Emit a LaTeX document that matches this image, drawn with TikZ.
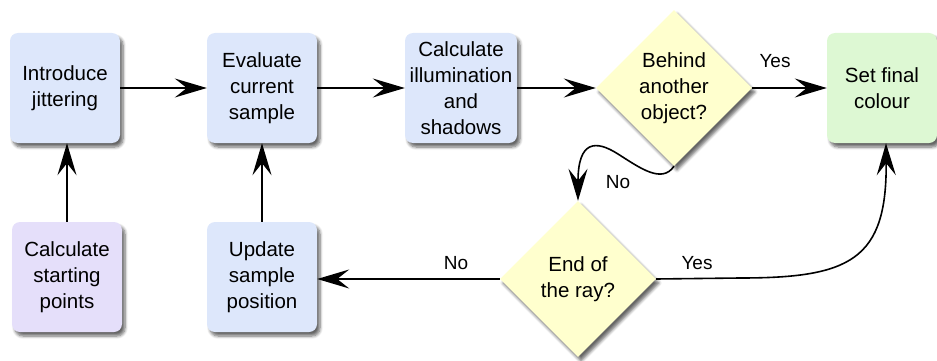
\documentclass[tikz,border=0pt]{standalone}
\usepackage{fontspec}
\setmainfont{Liberation Sans}
\usetikzlibrary{shapes.geometric,arrows.meta,shadows.blur}
\definecolor{boxblue}{RGB}{221,231,251}
\definecolor{boxgreen}{RGB}{221,248,211}
\definecolor{boxpurple}{RGB}{229,223,250}
\definecolor{boxyellow}{RGB}{255,255,206}
\tikzset{
  shad/.style={blur shadow={shadow xshift=3pt, shadow yshift=-4pt, shadow blur steps=6, shadow blur radius=3pt, shadow opacity=60}},
  stepbox/.style={rectangle, rounded corners=8pt, minimum width=110pt, minimum height=110pt, inner sep=0pt, align=center, font=\fontsize{20.5}{26}\selectfont, shad},
  decision/.style={diamond, aspect=1, minimum width=156pt, minimum height=156pt, inner sep=0pt, align=center, fill=boxyellow, font=\fontsize{20.5}{26}\selectfont, shad},
  conn/.style={line width=1.6pt, -{Stealth[length=32pt,width=19pt,inset=12pt]}},
  lbl/.style={font=\fontsize{19}{22}\selectfont, inner sep=0pt}
}
\begin{document}
\begin{tikzpicture}[x=1pt,y=-1pt]
\useasboundingbox (0,0) rectangle (937,361);
\node[stepbox, fill=boxblue] (jit) at (65,88) {Introduce\\jittering};
\node[stepbox, fill=boxblue] (eval) at (262,88) {Evaluate\\current\\sample};
\node[stepbox, fill=boxblue, minimum width=112pt] (illum) at (461,88) {Calculate\\illumination\\and\\shadows};
\node[decision] (behind) at (674,88) {Behind\\another\\object?};
\node[stepbox, fill=boxgreen] (final) at (882,88) {Set final\\colour};
\node[stepbox, fill=boxpurple] (start) at (67,277) {Calculate\\starting\\points};
\node[stepbox, fill=boxblue] (update) at (262,277) {Update\\sample\\position};
\node[decision] (end) at (578,279) {End of\\the ray?};

\draw[conn] (jit.east) -- (eval.west);
\draw[conn] (eval.east) -- (illum.west);
\draw[conn] (illum.east) -- (behind.west);
\draw[conn] (behind.east) -- (final.west);
\draw[conn] (start.north) -- (start.north |- jit.south);
\draw[conn] (update.north) -- (eval.south);
\draw[conn] (behind.south) .. controls (662,184) and (640,168) .. (618,154)
   .. controls (596,140) and (578,140) .. (end.north);
\draw[conn] (end.west) -- (end.west -| update.east);
\draw[conn] (end.east) -- (740,278) .. controls (850,278) and (887,260) .. (final.south -| 886,0);

\node[lbl] (yes1) at (775,61) {Yes};
\node[lbl] (no1) at (618,182) {No};
\node[lbl] (no2) at (456,263) {No};
\node[lbl] (yes2) at (697,263) {Yes};
\end{tikzpicture}
\end{document}
